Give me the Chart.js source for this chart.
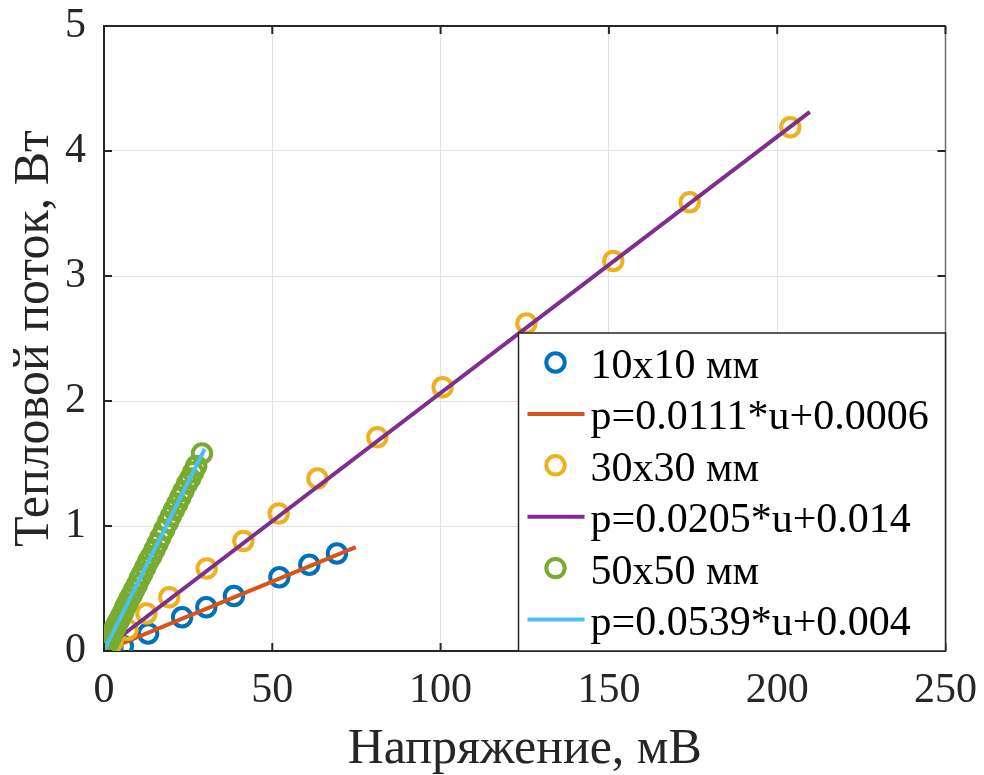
<!DOCTYPE html>
<html>
<head>
<meta charset="utf-8">
<script src="https://cdn.jsdelivr.net/npm/chart.js@4.4.1/dist/chart.umd.min.js"></script>
<style>
  html, body { margin: 0; padding: 0; background: #fff; }
</style>
</head>
<body>
<canvas id="myChart" width="984" height="775"></canvas>
<script>
const SERIF = "'Liberation Serif', 'Times New Roman', serif";
const INK = "#262626";

// measured points, u in mV, p in W
const u10 = [0.1, 1.2, 2.5, 5.6, 13.1, 23.2, 30.4, 38.6, 52.1, 61.0, 69.2];
const p10 = [0.00, 0.01, 0.03, 0.04, 0.14, 0.27, 0.35, 0.44, 0.59, 0.69, 0.78];

const u30 = [0.1, 1.0, 2.5, 7.0, 12.6, 19.4, 30.5, 41.4, 51.9, 63.4, 81.2, 100.6, 125.5, 151.3, 174.0, 203.9];
const p30 = [0.00, 0.03, 0.07, 0.17, 0.30, 0.43, 0.66, 0.88, 1.10, 1.38, 1.71, 2.11, 2.62, 3.12, 3.59, 4.19];

const u50 = [0.0, 0.1, 0.2, 0.35, 0.5, 0.7, 0.9, 1.1, 1.4, 1.7, 2.0, 2.4, 2.8, 3.2, 3.6, 4.1,
             4.6, 5.1, 5.7, 6.3, 6.9, 7.6, 8.3, 9.0, 9.8, 10.6, 11.4, 12.3, 13.2, 14.1, 15.0,
             15.9, 16.8, 17.9, 19.0, 19.9, 20.8, 21.8, 22.7, 23.6, 24.7, 25.6, 26.5, 27.4, 29.1];
const p50 = [0.00, 0.01, 0.02, 0.02, 0.03, 0.04, 0.05, 0.06, 0.08, 0.10, 0.11, 0.13, 0.16, 0.18,
             0.20, 0.23, 0.25, 0.28, 0.31, 0.35, 0.38, 0.42, 0.45, 0.49, 0.53, 0.58, 0.62, 0.67,
             0.72, 0.76, 0.81, 0.86, 0.91, 0.97, 1.03, 1.08, 1.13, 1.18, 1.23, 1.28, 1.34, 1.38,
             1.43, 1.48, 1.58];

// linear fits, end points
const fit10U = [0, 74.8];
const fit10P = [0.0006, 0.831];
const fit30U = [0, 209.7];
const fit30P = [0.014, 4.313];
const fit50U = [0, 29.9];
const fit50P = [0.004, 1.616];

const labels = ["10x10 мм", "p=0.0111*u+0.0006", "30x30 мм", "p=0.0205*u+0.014", "50x50 мм", "p=0.0539*u+0.004"];
const colors = ["#0072BD", "#D95319", "#EDB120", "#7E2F8E", "#77AC30", "#4DBEEE"];

const xTicks = [0, 50, 100, 150, 200, 250];
const yTicks = [0, 1, 2, 3, 4, 5];

const pts = (xs, ys) => xs.map((x, i) => ({ x: x, y: ys[i] }));

function markers(i, xs, ys) {
    return {
        label: labels[i],
        data: pts(xs, ys),
        showLine: false,
        borderColor: colors[i],
        backgroundColor: "rgba(0,0,0,0)",
        pointRadius: 9.2,
        pointBorderWidth: 4,
        order: 6 - i,
    };
}

function fitLine(i, xs, ys) {
    return {
        label: labels[i],
        data: pts(xs, ys),
        showLine: true,
        borderColor: colors[i],
        borderWidth: 4,
        pointRadius: 0,
        fill: false,
        order: 6 - i,
    };
}

// box, inward ticks and the legend, the way matlab draws them
const axesBox = {
    id: "axesBox",
    afterDatasetsDraw(chart) {
        const { ctx, chartArea: a, scales } = chart;
        ctx.save();
        ctx.strokeStyle = INK;
        ctx.lineWidth = 2;
        ctx.beginPath();
        ctx.moveTo(a.left, a.top);
        ctx.lineTo(a.right, a.top);
        ctx.stroke();
        ctx.strokeStyle = "#707070";
        ctx.lineWidth = 1.5;
        ctx.beginPath();
        ctx.moveTo(a.right, a.top);
        ctx.lineTo(a.right, a.bottom);
        ctx.stroke();

        ctx.strokeStyle = INK;
        ctx.lineWidth = 2;
        const len = 8;
        xTicks.forEach(v => {
            const x = scales.x.getPixelForValue(v);
            ctx.beginPath();
            ctx.moveTo(x, a.bottom); ctx.lineTo(x, a.bottom - len);
            ctx.moveTo(x, a.top); ctx.lineTo(x, a.top + len);
            ctx.stroke();
        });
        yTicks.forEach(v => {
            const y = scales.y.getPixelForValue(v);
            ctx.beginPath();
            ctx.moveTo(a.left, y); ctx.lineTo(a.left + len, y);
            ctx.moveTo(a.right, y); ctx.lineTo(a.right - len, y);
            ctx.stroke();
        });
        ctx.restore();
    },
    afterDraw(chart) {
        const { ctx, chartArea: a } = chart;
        const x0 = a.right - 427, y0 = a.bottom - 318;
        ctx.save();
        ctx.fillStyle = "#fff";
        ctx.fillRect(x0, y0, a.right - x0, a.bottom - y0);
        ctx.strokeStyle = INK;
        ctx.lineWidth = 1.5;
        ctx.strokeRect(x0, y0, a.right - x0, a.bottom - y0);

        ctx.font = "42px " + SERIF;
        ctx.textAlign = "left";
        ctx.textBaseline = "alphabetic";
        chart.data.datasets.forEach((ds, i) => {
            const base = y0 + 45 + i * 51.4;
            const my = base - 15.5;
            ctx.strokeStyle = ds.borderColor;
            ctx.lineWidth = 4;
            ctx.beginPath();
            if (ds.showLine) {
                ctx.moveTo(x0 + 9, my);
                ctx.lineTo(x0 + 66, my);
            } else {
                ctx.arc(x0 + 37, my, 9.2, 0, Math.PI * 2);
            }
            ctx.stroke();
            ctx.fillStyle = "#000";
            ctx.fillText(ds.label, x0 + 72, base);
        });
        ctx.restore();
    },
};

const tickFont = { family: SERIF, size: 42 };
const titleFont = { family: SERIF, size: 50, lineHeight: 1 };

const config = {
    type: "scatter",
    data: {
        datasets: [
            markers(0, u10, p10),
            fitLine(1, fit10U, fit10P),
            markers(2, u30, p30),
            fitLine(3, fit30U, fit30P),
            markers(4, u50, p50),
            fitLine(5, fit50U, fit50P),
        ],
    },
    options: {
        responsive: false,
        animation: false,
        devicePixelRatio: 1,
        layout: { padding: { top: 26, right: 38.5, bottom: 0, left: 0 } },
        plugins: {
            legend: { display: false },
            tooltip: { enabled: false },
        },
        scales: {
            x: {
                type: "linear",
                min: 0,
                max: 250,
                afterBuildTicks(scale) { scale.ticks = xTicks.map(v => ({ value: v })); },
                ticks: { color: INK, font: tickFont, padding: 15, maxRotation: 0 },
                grid: { color: "#e2e2e2", lineWidth: 1, drawTicks: false, tickLength: 0 },
                border: { color: INK, width: 2 },
                title: { display: true, text: "Напряжение, мВ", color: INK, font: titleFont, padding: 0 },
                afterFit(scale) {
                    scale.height = 124;
                    scale.paddingLeft = 0;
                    scale.paddingRight = 0;
                },
            },
            y: {
                type: "linear",
                min: 0,
                max: 5,
                afterBuildTicks(scale) { scale.ticks = yTicks.map(v => ({ value: v })); },
                ticks: { color: INK, font: tickFont, padding: 18 },
                grid: { color: "#e2e2e2", lineWidth: 1, drawTicks: false, tickLength: 0 },
                border: { color: INK, width: 2 },
                title: { display: true, text: "Тепловой поток, Вт", color: INK, font: titleFont, padding: { top: 10, bottom: 0 } },
                afterFit(scale) {
                    scale.width = 104;
                    scale.paddingTop = 0;
                    scale.paddingBottom = 0;
                },
            },
        },
    },
    plugins: [axesBox],
};

const myChart = new Chart(document.getElementById("myChart").getContext("2d"), config);
</script>
</body>
</html>
